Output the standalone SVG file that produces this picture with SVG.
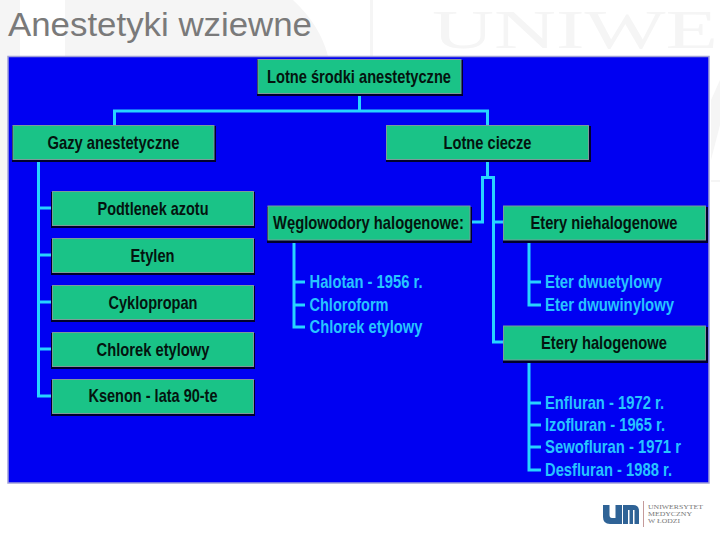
<svg xmlns="http://www.w3.org/2000/svg" width="720" height="540" viewBox="0 0 720 540">
<style>
.n{fill:#1ac387;stroke:#7d9a9a;stroke-width:1}
.s{fill:#00002e}
.t{font-family:"Liberation Sans",Arial,sans-serif;font-weight:700;font-size:19px;fill:#04140f;text-anchor:middle}
.l{font-family:"Liberation Sans",Arial,sans-serif;font-weight:700;font-size:19px;fill:#27c4ff}
.c{fill:none;stroke:#27d4ff;stroke-width:3}
</style>
<rect width="720" height="540" fill="#fff"/>
<g id="watermark" fill="#f5f5f5">
<path d="M0 0H20V180H0Z"/>
<path d="M65 0H293Q320 25 328 56H65Z"/>
<path d="M370 0H373V56H370Z"/>
<path d="M711 100L720 80V125L711 160ZM711 180H720V182H711Z"/>
<text x="432" y="48" font-family="Liberation Serif,serif" font-size="54" textLength="286" lengthAdjust="spacingAndGlyphs">UNIWE</text>
</g>
<text id="title" x="8" y="36" font-family="Liberation Sans,Arial,sans-serif" font-size="33" fill="#7a7a7a" textLength="304" lengthAdjust="spacingAndGlyphs">Anestetyki wziewne</text>
<rect id="panel" x="8" y="56.500" width="701" height="426.500" fill="#0000f2" stroke="#a0a0d8" stroke-width="1.500"/>
<g id="connectors">
<path class="c" d="M359.500 94V111M114.500 125V111H487.500V125"/>
<path class="c" d="M38.500 160V396H52M38.500 208H52M38.500 255H52M38.500 302H52M38.500 349H52"/>
<path class="c" d="M487.500 160V177.500M470 222H482.500V177.500H493.500V342H503M493.500 222H503"/>
<path class="c" d="M294 240V327H305M294 282H305M294 305H305"/>
<path class="c" d="M529 240V305H541M529 282H541"/>
<path class="c" d="M529 360V470H541M529 403H541M529 425H541M529 447H541"/>
</g>
<g id="n-root"><rect class="s" x="257" y="60" width="206" height="36"/><rect class="n" x="258" y="59.500" width="203" height="34"/><text class="t" x="359" y="83" textLength="184" lengthAdjust="spacingAndGlyphs">Lotne środki anestetyczne</text></g>
<g id="n-gazy"><rect class="s" x="12" y="126" width="204" height="36"/><rect class="n" x="13" y="125.500" width="201" height="34"/><text class="t" x="113.500" y="149" textLength="132" lengthAdjust="spacingAndGlyphs">Gazy anestetyczne</text></g>
<g id="n-ciecze"><rect class="s" x="386" y="126" width="205" height="36"/><rect class="n" x="386.500" y="125.500" width="202" height="34"/><text class="t" x="487.500" y="149" textLength="88" lengthAdjust="spacingAndGlyphs">Lotne ciecze</text></g>
<g id="n-podtlenek"><rect class="s" x="51" y="192" width="204" height="36"/><rect class="n" x="52.500" y="191.500" width="201" height="34"/><text class="t" x="153" y="215" textLength="111" lengthAdjust="spacingAndGlyphs">Podtlenek azotu</text></g>
<g id="n-etylen"><rect class="s" x="51" y="239" width="204" height="36"/><rect class="n" x="52.500" y="238.500" width="201" height="34"/><text class="t" x="152.500" y="262" textLength="44" lengthAdjust="spacingAndGlyphs">Etylen</text></g>
<g id="n-cyklopropan"><rect class="s" x="51" y="286" width="204" height="36"/><rect class="n" x="52.500" y="285.500" width="201" height="34"/><text class="t" x="153" y="309" textLength="89" lengthAdjust="spacingAndGlyphs">Cyklopropan</text></g>
<g id="n-chlorek"><rect class="s" x="51" y="333" width="204" height="36"/><rect class="n" x="52.500" y="332.500" width="201" height="34"/><text class="t" x="153" y="356" textLength="113" lengthAdjust="spacingAndGlyphs">Chlorek etylowy</text></g>
<g id="n-ksenon"><rect class="s" x="51" y="380" width="204" height="36"/><rect class="n" x="52.500" y="379.500" width="201" height="34"/><text class="t" x="153" y="402" textLength="129" lengthAdjust="spacingAndGlyphs">Ksenon - lata 90-te</text></g>
<g id="n-weglowodory"><rect class="s" x="267" y="207" width="205" height="36"/><rect class="n" x="268" y="206" width="202" height="34"/><text class="t" x="368.500" y="229" textLength="191" lengthAdjust="spacingAndGlyphs">Węglowodory halogenowe:</text></g>
<g id="n-niehalogenowe"><rect class="s" x="503" y="207" width="205" height="36"/><rect class="n" x="503.500" y="206" width="202" height="34"/><text class="t" x="604" y="229" textLength="147" lengthAdjust="spacingAndGlyphs">Etery niehalogenowe</text></g>
<g id="n-halogenowe"><rect class="s" x="503" y="327" width="205" height="36"/><rect class="n" x="503.500" y="326" width="202" height="34"/><text class="t" x="604" y="349" textLength="126" lengthAdjust="spacingAndGlyphs">Etery halogenowe</text></g>
<g id="list-weglowodory">
<text class="l" x="309.500" y="288" textLength="113" lengthAdjust="spacingAndGlyphs">Halotan - 1956 r.</text>
<text class="l" x="309.500" y="311" textLength="79" lengthAdjust="spacingAndGlyphs">Chloroform</text>
<text class="l" x="309.500" y="333" textLength="113" lengthAdjust="spacingAndGlyphs">Chlorek etylowy</text>
</g>
<g id="list-niehalogenowe">
<text class="l" x="545" y="288" textLength="117" lengthAdjust="spacingAndGlyphs">Eter dwuetylowy</text>
<text class="l" x="545" y="311" textLength="129" lengthAdjust="spacingAndGlyphs">Eter dwuwinylowy</text>
</g>
<g id="list-halogenowe">
<text class="l" x="545" y="409" textLength="119" lengthAdjust="spacingAndGlyphs">Enfluran - 1972 r.</text>
<text class="l" x="545" y="431" textLength="120" lengthAdjust="spacingAndGlyphs">Izofluran - 1965 r.</text>
<text class="l" x="545" y="453" textLength="136" lengthAdjust="spacingAndGlyphs">Sewofluran - 1971 r</text>
<text class="l" x="545" y="476" textLength="127" lengthAdjust="spacingAndGlyphs">Desfluran - 1988 r.</text>
</g>
<g id="logo">
<path fill="#2f6396" d="M603 505H609.500V515Q609.500 518 612 518H615.500V505H622V524H610Q603 524 603 517Z"/>
<path fill="#2f6396" d="M623 505H633Q639 505 639 511V524H634.500V510H633V524H629.500V510H628V524H623Z"/>
<rect x="643" y="501" width="1" height="26" fill="#c49a9a"/>
<g font-family="Liberation Serif,serif" font-size="6.800" fill="#777">
<text x="648" y="509" textLength="55" lengthAdjust="spacingAndGlyphs">UNIWERSYTET</text>
<text x="648" y="516" textLength="44" lengthAdjust="spacingAndGlyphs">MEDYCZNY</text>
<text x="648" y="523" textLength="32" lengthAdjust="spacingAndGlyphs">W ŁODZI</text>
</g>
</g>
</svg>
